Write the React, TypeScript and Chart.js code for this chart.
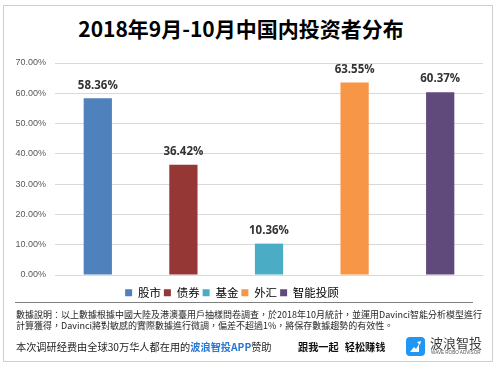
import React, { useEffect, useRef } from "react";
import { Chart, registerables } from "chart.js";

Chart.register(...registerables);

const TITLE = "2018年9月-10月中国内投资者分布";
const categories = ["股市", "债券", "基金", "外汇", "智能投顾"];
const shares = [58.36, 36.42, 10.36, 63.55, 60.37];
const barColors = ["#4F81BD", "#953735", "#4BACC6", "#F79646", "#604A7B"];
const yTicks = [0, 10, 20, 30, 40, 50, 60, 70];

const NOTE_LINE1 =
  "數據說明：以上數據根據中國大陸及港澳臺用戶抽樣問卷調查，於2018年10月統計，並運用Davinci智能分析模型進行";
const NOTE_LINE2 =
  "計算獲得，Davinci將對敏感的實際數據進行微調，偏差不超過1%，將保存數據趨勢的有效性。";
const SPONSOR_PRE = "本次调研经费由全球30万华人都在用的";
const SPONSOR_APP = "波浪智投APP";
const SPONSOR_POST = "赞助";
const SLOGAN_A = "跟我一起";
const SLOGAN_B = "轻松赚钱";
const BRAND = "波浪智投";
const BRAND_EN = "WAVE ROBO ADVISOR";

const valueLabels = {
  id: "valueLabels",
  afterDatasetsDraw(chart: any) {
    const { ctx } = chart;
    const meta = chart.getDatasetMeta(0);
    ctx.save();
    ctx.font = "700 11.5px 'Open Sans'";
    ctx.fillStyle = "#333333";
    ctx.textAlign = "center";
    ctx.textBaseline = "middle";
    meta.data.forEach((bar: any, i: number) => {
      ctx.fillText(shares[i].toFixed(2) + "%", bar.x, bar.y - 13);
    });
    ctx.restore();
  },
};

function BarChart() {
  const ref = useRef<HTMLCanvasElement | null>(null);
  useEffect(() => {
    if (!ref.current) return;
    const chart = new Chart(ref.current, {
      type: "bar",
      data: {
        labels: categories,
        datasets: [
          {
            data: shares,
            backgroundColor: barColors,
            borderWidth: 0,
            barPercentage: 0.33,
            categoryPercentage: 1,
          },
        ],
      },
      options: {
        responsive: false,
        maintainAspectRatio: false,
        animation: false,
        layout: { padding: { left: 0, right: 17, top: 63, bottom: 1.5 } },
        plugins: {
          title: { display: false },
          tooltip: { enabled: false },
          legend: {
            position: "bottom",
            labels: {
              boxWidth: 7,
              boxHeight: 7,
              padding: 3,
              color: "#595959",
              font: { family: "'Noto Sans CJK SC'", size: 11.5 },
              generateLabels: () =>
                categories.map((c, i) => ({
                  text: c,
                  fillStyle: barColors[i],
                  strokeStyle: barColors[i],
                  lineWidth: 0,
                  hidden: false,
                  index: i,
                  datasetIndex: 0,
                })),
            },
          },
        },
        scales: {
          x: {
            display: true,
            grid: { display: false },
            border: { display: false },
            ticks: { display: false },
            afterFit: (s: any) => {
              s.height = 9;
            },
          },
          y: {
            min: 0,
            max: 70,
            afterBuildTicks: (s: any) => {
              s.ticks = yTicks.map((v) => ({ value: v }));
            },
            grid: { color: "#D9D9D9", drawTicks: false },
            border: { display: false },
            ticks: {
              padding: 9,
              color: "#595959",
              font: { family: "'Liberation Sans'", size: 9 },
              callback: (v: any) => Number(v).toFixed(2) + "%",
            },
            afterFit: (s: any) => {
              s.width = 74;
            },
          },
        },
      },
      plugins: [valueLabels],
    } as any);
    return () => chart.destroy();
  }, []);
  return (
    <canvas
      ref={ref}
      width={519}
      height={310}
      style={{ position: "absolute", left: -19, top: 0, width: 519, height: 310 }}
    />
  );
}

export default function App() {
  const abs: React.CSSProperties = { position: "absolute", whiteSpace: "nowrap" };
  return (
    <div
      style={{
        position: "fixed",
        left: 0,
        top: 0,
        width: 500,
        height: 370,
        overflow: "hidden",
        background: "#fff",
      }}
    >
      <div
        style={{
          position: "absolute",
          left: 3,
          top: 5,
          width: 490,
          height: 357,
          boxSizing: "border-box",
          border: "1px solid #cfcfcf",
        }}
      />
      <div
        style={{
          ...abs,
          left: 0,
          top: 16,
          width: 482,
          textAlign: "center",
          fontFamily: "'Noto Sans CJK SC'",
          fontWeight: 700,
          fontSize: 21,
          lineHeight: "25px",
          color: "#000",
        }}
      >
        {TITLE}
      </div>
      <BarChart />
      <div style={{ position: "absolute", left: 15, top: 302, width: 458, height: 1, background: "#7f7f7f" }} />
      <div
        style={{
          ...abs,
          left: 16,
          top: 309,
          fontFamily: "'Noto Sans CJK TC'",
          fontSize: 9,
          lineHeight: "11px",
          color: "#262626",
        }}
      >
        <div>{NOTE_LINE1}</div>
        <div>{NOTE_LINE2}</div>
      </div>
      <div
        style={{
          ...abs,
          left: 16,
          top: 340,
          fontFamily: "'Noto Sans CJK SC'",
          fontSize: 10.2,
          lineHeight: "14px",
          color: "#222",
        }}
      >
        {SPONSOR_PRE}
        <span style={{ color: "#2b78d0", fontWeight: 700 }}>{SPONSOR_APP}</span>
        {SPONSOR_POST}
      </div>
      <div
        style={{
          ...abs,
          left: 298,
          top: 340,
          fontFamily: "'Noto Sans CJK SC'",
          fontSize: 10.2,
          lineHeight: "14px",
          fontWeight: 700,
          color: "#111",
        }}
      >
        {SLOGAN_A}
        <span style={{ display: "inline-block", width: 6 }} />
        {SLOGAN_B}
      </div>
      <div
        style={{
          position: "absolute",
          left: 406,
          top: 337,
          width: 19,
          height: 19,
          borderRadius: 4,
          background: "#2196F3",
        }}
      >
        <svg width="19" height="19" viewBox="0 0 19 19">
          <path d="M4 15 L8 10 L10 12 L13 7 L13 15 Z" fill="#fff" />
          <path d="M11 5 L15 4 L14 8 Z" fill="#fff" />
        </svg>
      </div>
      <div
        style={{
          ...abs,
          left: 430,
          top: 336,
          fontFamily: "'Noto Sans CJK SC'",
          fontSize: 13,
          lineHeight: "14px",
          color: "#3a3a3a",
        }}
      >
        {BRAND}
      </div>
      <div
        style={{
          ...abs,
          left: 431,
          top: 350,
          fontFamily: "'Liberation Sans'",
          fontSize: 4.6,
          lineHeight: "5px",
          color: "#555",
        }}
      >
        {BRAND_EN}
      </div>
    </div>
  );
}
